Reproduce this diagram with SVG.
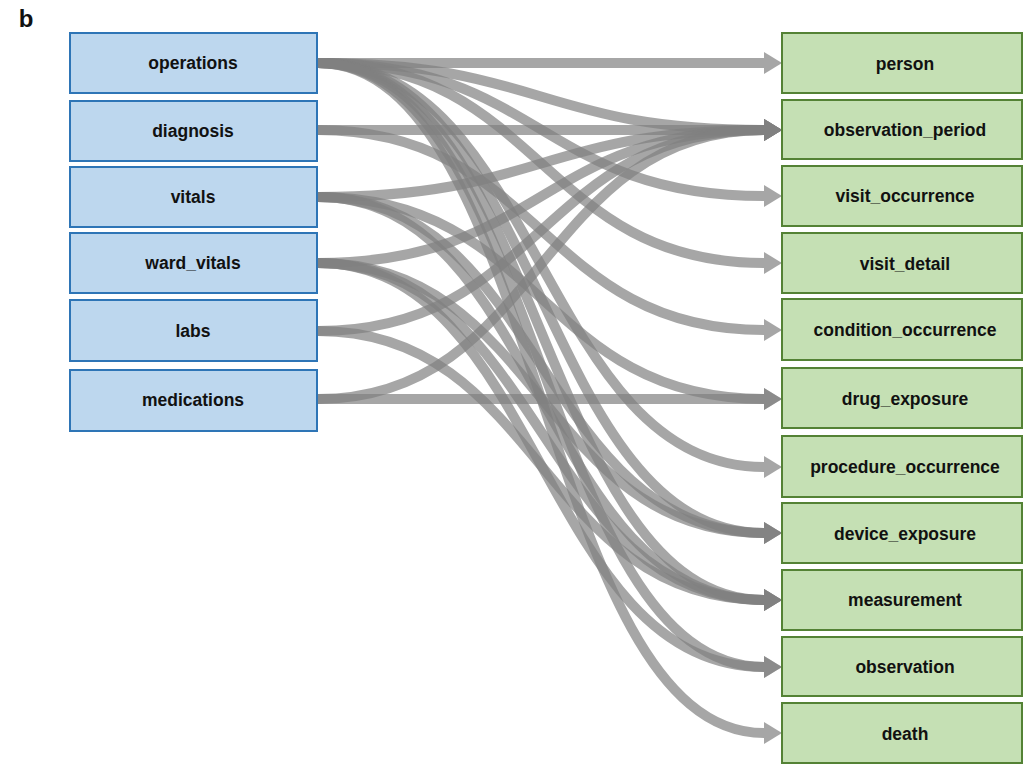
<svg xmlns="http://www.w3.org/2000/svg" width="1024" height="769" viewBox="0 0 1024 769">
<style>
.src rect{fill:#BDD7EE;stroke:#2E75B6;stroke-width:2}
.dst rect{fill:#C5E0B4;stroke:#548235;stroke-width:2}
text{font-family:"Liberation Sans",Arial,sans-serif;font-weight:bold;font-size:17.5px;fill:#111;text-anchor:middle;dominant-baseline:central}
#edges path{fill:none;stroke:#808080;stroke-opacity:0.7;stroke-width:10}
</style>
<defs>
<marker id="ah" viewBox="0 0 18 22" refX="0" refY="11" markerWidth="18" markerHeight="22" markerUnits="userSpaceOnUse" orient="auto">
<path d="M0,0 L18,11 L0,22 z" fill="#808080" fill-opacity="0.7"/>
</marker>
</defs>
<rect width="1024" height="769" fill="#fff"/>
<text x="26" y="18" style="font-size:24px">b</text>
<g id="edges">
<path marker-end="url(#ah)" d="M318,63 L764,63"/>
<path marker-end="url(#ah)" d="M318,63 C541,63 541,130 764,130"/>
<path marker-end="url(#ah)" d="M318,63 C541,63 541,196 764,196"/>
<path marker-end="url(#ah)" d="M318,63 C541,63 541,263 764,263"/>
<path marker-end="url(#ah)" d="M318,63 C541,63 541,467 764,467"/>
<path marker-end="url(#ah)" d="M318,63 C541,63 541,533 764,533"/>
<path marker-end="url(#ah)" d="M318,63 C541,63 541,600 764,600"/>
<path marker-end="url(#ah)" d="M318,63 C541,63 541,667 764,667"/>
<path marker-end="url(#ah)" d="M318,63 C541,63 541,733 764,733"/>
<path marker-end="url(#ah)" d="M318,130 L764,130"/>
<path marker-end="url(#ah)" d="M318,130 C541,130 541,330 764,330"/>
<path marker-end="url(#ah)" d="M318,197 C541,197 541,130 764,130"/>
<path marker-end="url(#ah)" d="M318,197 C541,197 541,399 764,399"/>
<path marker-end="url(#ah)" d="M318,197 C541,197 541,533 764,533"/>
<path marker-end="url(#ah)" d="M318,197 C541,197 541,600 764,600"/>
<path marker-end="url(#ah)" d="M318,263 C541,263 541,130 764,130"/>
<path marker-end="url(#ah)" d="M318,263 C541,263 541,533 764,533"/>
<path marker-end="url(#ah)" d="M318,263 C541,263 541,600 764,600"/>
<path marker-end="url(#ah)" d="M318,263 C541,263 541,667 764,667"/>
<path marker-end="url(#ah)" d="M318,331 C541,331 541,130 764,130"/>
<path marker-end="url(#ah)" d="M318,331 C541,331 541,600 764,600"/>
<path marker-end="url(#ah)" d="M318,399 C541,399 541,130 764,130"/>
<path marker-end="url(#ah)" d="M318,399 L764,399"/>
</g>
<g id="operations" class="src"><rect x="70" y="33" width="247" height="60"/><text x="193" y="63">operations</text></g>
<g id="diagnosis" class="src"><rect x="70" y="101" width="247" height="60"/><text x="193" y="131">diagnosis</text></g>
<g id="vitals" class="src"><rect x="70" y="167" width="247" height="60"/><text x="193" y="197">vitals</text></g>
<g id="ward_vitals" class="src"><rect x="70" y="233" width="247" height="60"/><text x="193" y="263">ward_vitals</text></g>
<g id="labs" class="src"><rect x="70" y="300" width="247" height="61"/><text x="193" y="331">labs</text></g>
<g id="medications" class="src"><rect x="70" y="370" width="247" height="61"/><text x="193" y="400">medications</text></g>
<g id="person" class="dst"><rect x="782" y="33" width="240" height="60"/><text x="905" y="64">person</text></g>
<g id="observation_period" class="dst"><rect x="782" y="100" width="240" height="59"/><text x="905" y="130">observation_period</text></g>
<g id="visit_occurrence" class="dst"><rect x="782" y="166" width="240" height="60"/><text x="905" y="196">visit_occurrence</text></g>
<g id="visit_detail" class="dst"><rect x="782" y="233" width="240" height="60"/><text x="905" y="264">visit_detail</text></g>
<g id="condition_occurrence" class="dst"><rect x="782" y="299" width="240" height="61"/><text x="905" y="330">condition_occurrence</text></g>
<g id="drug_exposure" class="dst"><rect x="782" y="368" width="240" height="60"/><text x="905" y="399">drug_exposure</text></g>
<g id="procedure_occurrence" class="dst"><rect x="782" y="436" width="240" height="61"/><text x="905" y="467">procedure_occurrence</text></g>
<g id="device_exposure" class="dst"><rect x="782" y="503" width="240" height="60"/><text x="905" y="534">device_exposure</text></g>
<g id="measurement" class="dst"><rect x="782" y="570" width="240" height="60"/><text x="905" y="600">measurement</text></g>
<g id="observation" class="dst"><rect x="782" y="637" width="240" height="59"/><text x="905" y="667">observation</text></g>
<g id="death" class="dst"><rect x="782" y="703" width="240" height="60"/><text x="905" y="734">death</text></g>
</svg>
